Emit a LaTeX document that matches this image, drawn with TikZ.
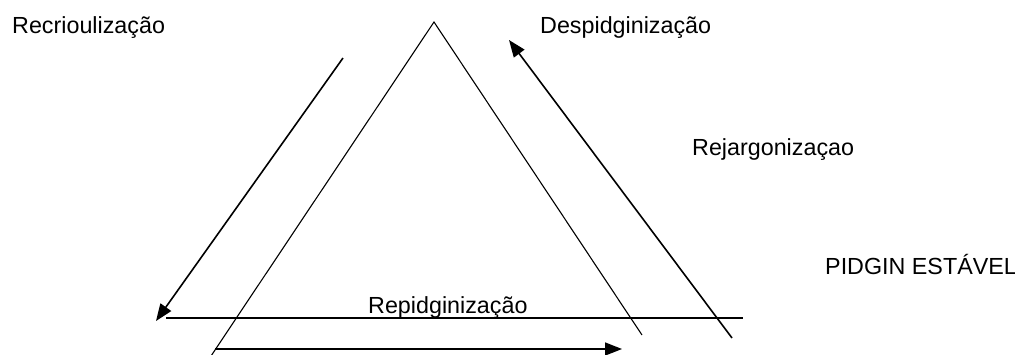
\documentclass[tikz,border=0pt]{standalone}
\usepackage{fontspec}
\setmainfont{Liberation Sans}
\usetikzlibrary{arrows.meta}
\begin{document}
\begin{tikzpicture}[x=1pt,y=-1pt,
  lbl/.style={anchor=base west,inner sep=0pt,font=\fontsize{23.3}{28}\selectfont},
  thin line/.style={line width=1.1pt},
  arr/.style={line width=1.6pt,-{Triangle[length=17pt,width=13pt]}}]
\useasboundingbox (0,0) rectangle (1015,354);
% triangle
\coordinate (apex) at (434,22);
\coordinate (bl) at (211,356);
\coordinate (br) at (642,335);
\draw[thin line] (bl) -- (apex) -- (br);
% horizontal line
\coordinate (h1) at (166,318);
\coordinate (h2) at (743,318);
\draw[thin line] (h1) -- (h2);
% arrows
\coordinate (r1) at (343,58);
\coordinate (r2) at (156,321);
\draw[arr] (r1) -- (r2);
\coordinate (d1) at (732,338);
\coordinate (d2) at (509,40);
\draw[arr] (d1) -- (d2);
\coordinate (b1) at (215,349);
\coordinate (b2) at (622,349);
\draw[arr] (b1) -- (b2);
% labels
\node[lbl] (recr) at (12,33) {Recrioulização};
\node[lbl] (desp) at (540,33) {Despidginização};
\node[lbl] (rejar) at (692,155) {Rejargonizaçao};
\node[lbl] (pidg) at (825,274) {PIDGIN ESTÁVEL};
\node[lbl] (repid) at (368,313) {Repidginização};
\end{tikzpicture}
\end{document}
